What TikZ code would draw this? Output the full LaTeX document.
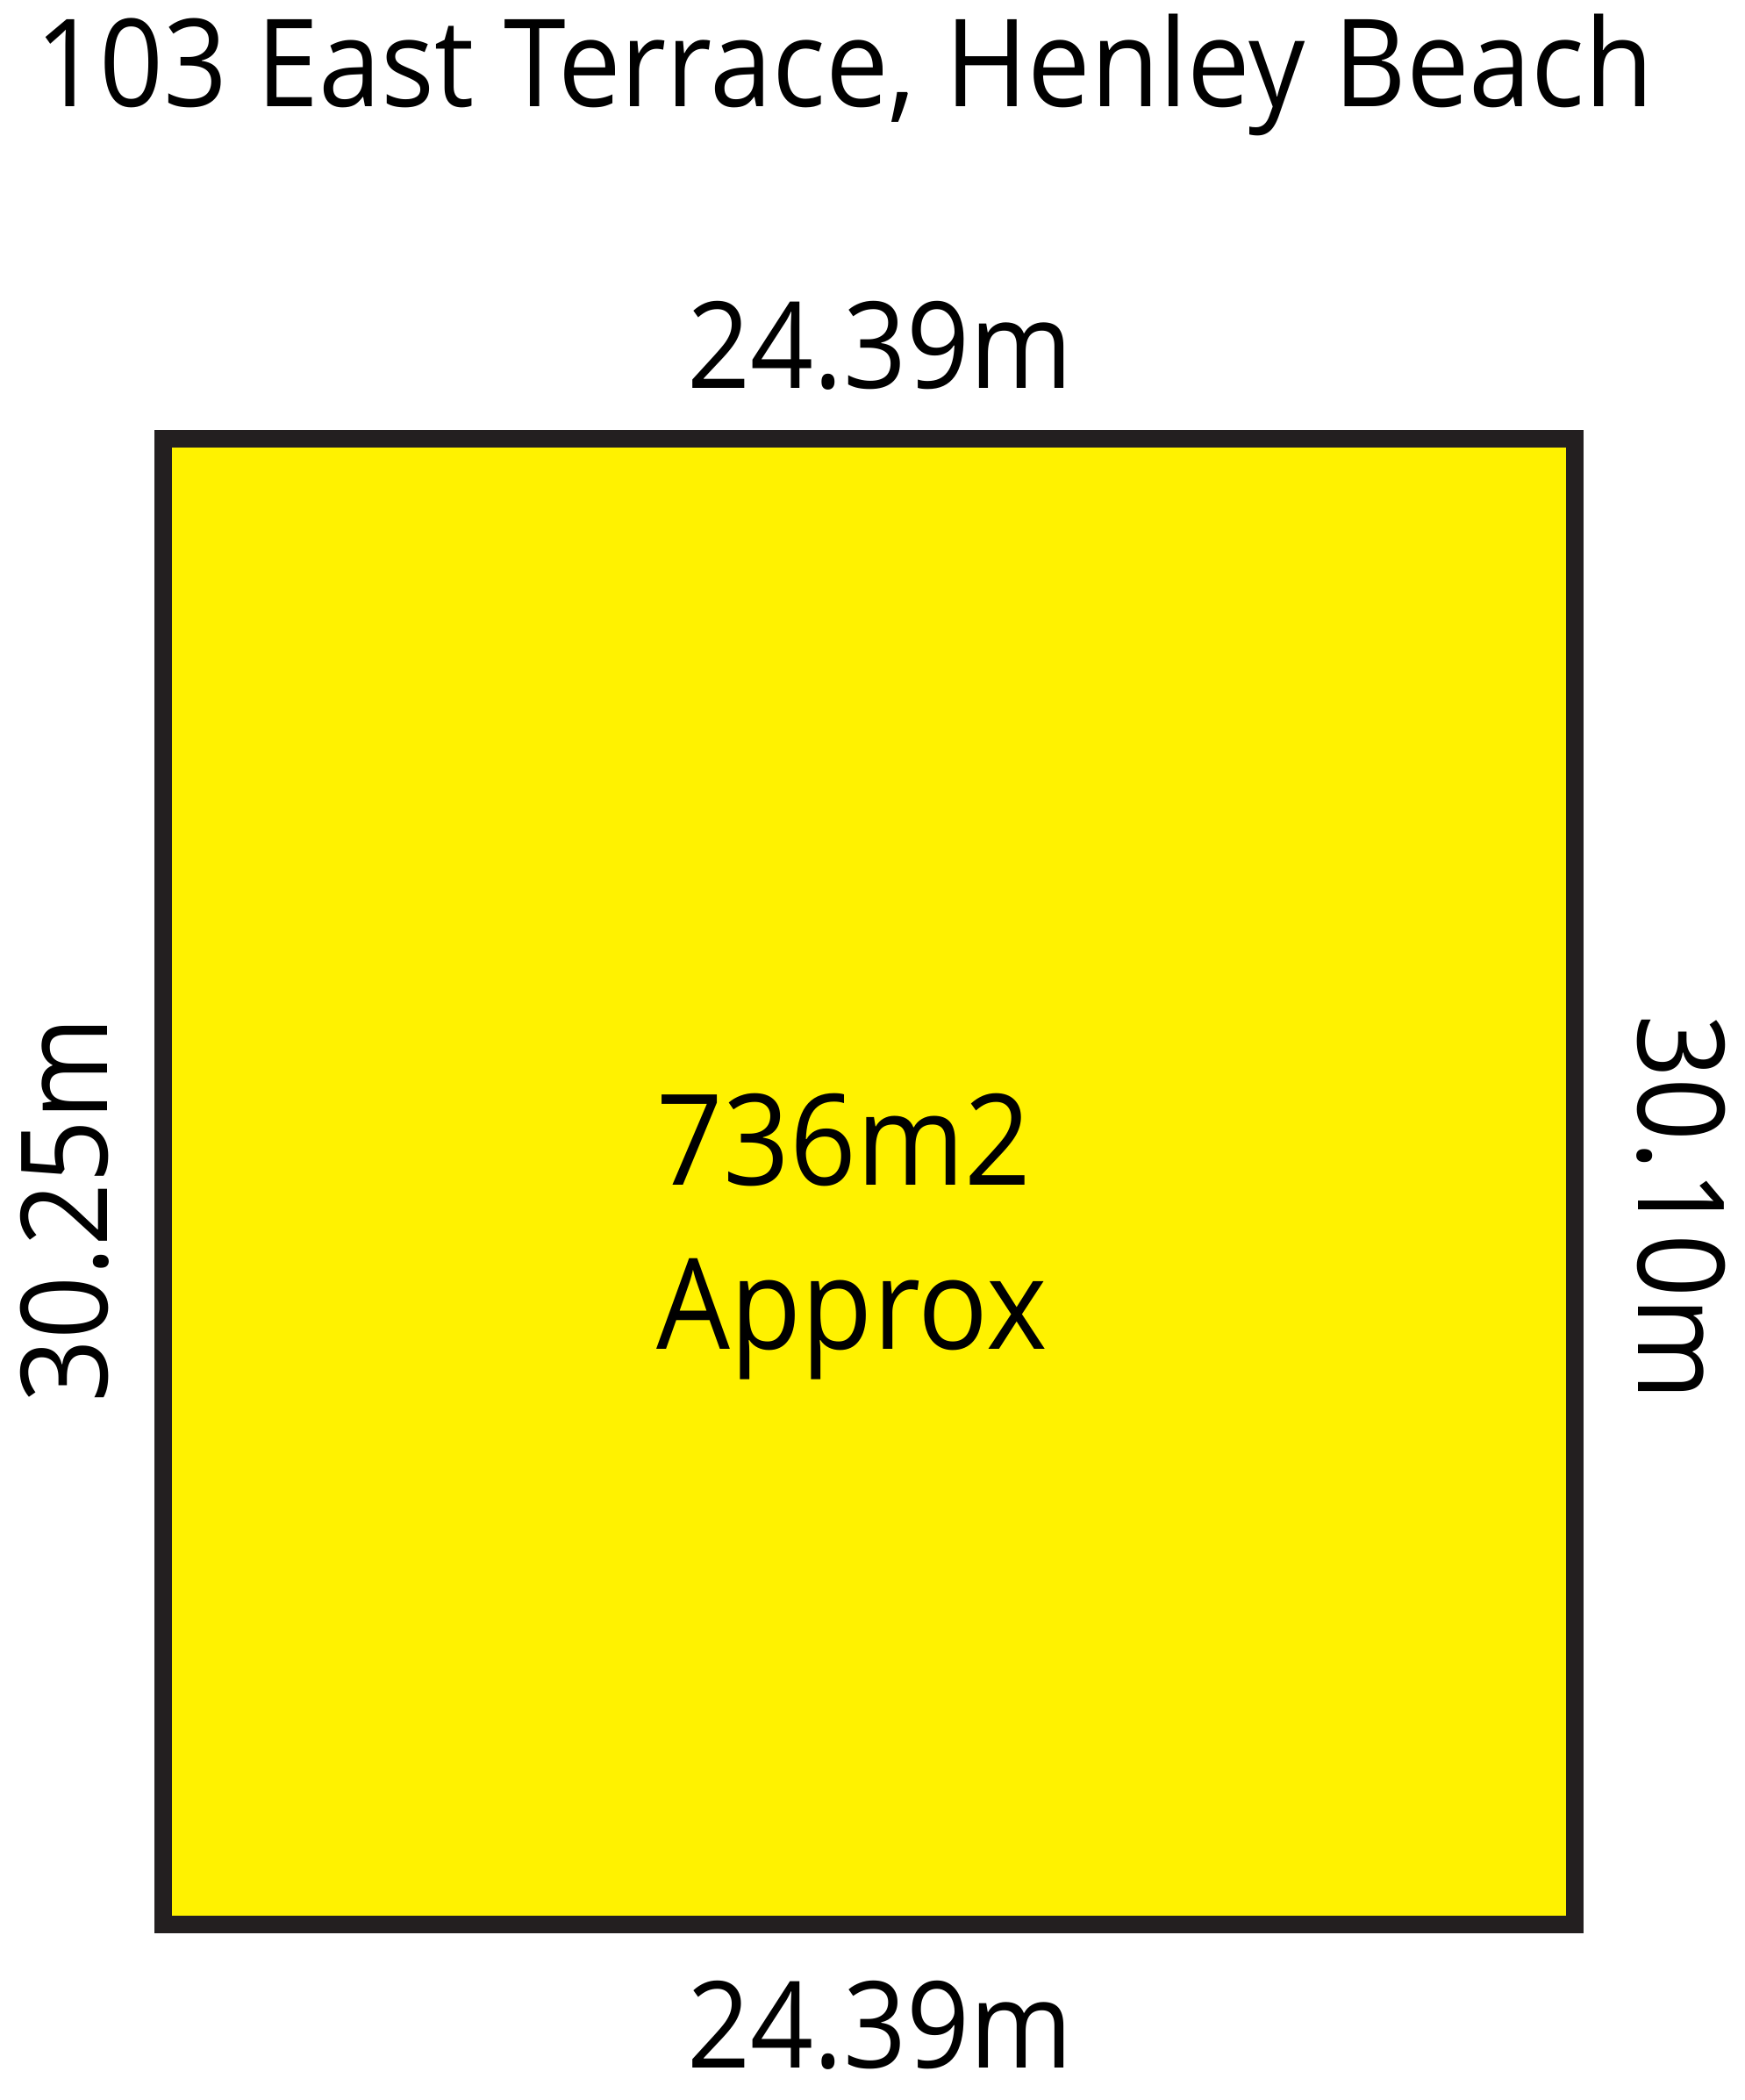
\documentclass[tikz,border=0pt]{standalone}
\usepackage{fontspec}
\setmainfont{Open Sans}[FakeStretch=0.92]
\usepackage{xcolor}
\definecolor{LotYellow}{RGB}{255,242,0}
\definecolor{LotEdge}{RGB}{35,31,32}
\usepackage{tikz}
\usetikzlibrary{positioning}

\tikzset{
  dimlabel/.style={inner sep=0, font=\fontsize{39}{47}\selectfont},
}

\begin{document}
\begin{tikzpicture}
			\useasboundingbox (0, 0) rectangle (19.89, 23.93);
			\filldraw[fill=LotYellow, draw=LotEdge, line width=0.2cm] (1.855, 2.00) rectangle (17.95, 18.93);
			\node[dimlabel, anchor=base west, font=\fontsize{39.5}{47}\selectfont] (title) at (0.40, 22.71) {103 East Terrace, Henley Beach};
			\node[dimlabel, anchor=base] (topside) at (10.03, 19.50) {24.39m};
			\node[dimlabel, anchor=base] (bottomside) at (10.03, 0.363) {24.39m};
			\node[dimlabel, anchor=base, rotate=90] (leftside) at (1.23, 10.14) {30.25m};
			\node[dimlabel, anchor=base, rotate=-90] (rightside) at (18.67, 10.17) {30.10m};
			\node[dimlabel, anchor=base west, align=left, font=\fontsize{41}{53.3}\selectfont] (area) at (7.48, 8.555) {736m2\\Approx};
\end{tikzpicture}
\end{document}
